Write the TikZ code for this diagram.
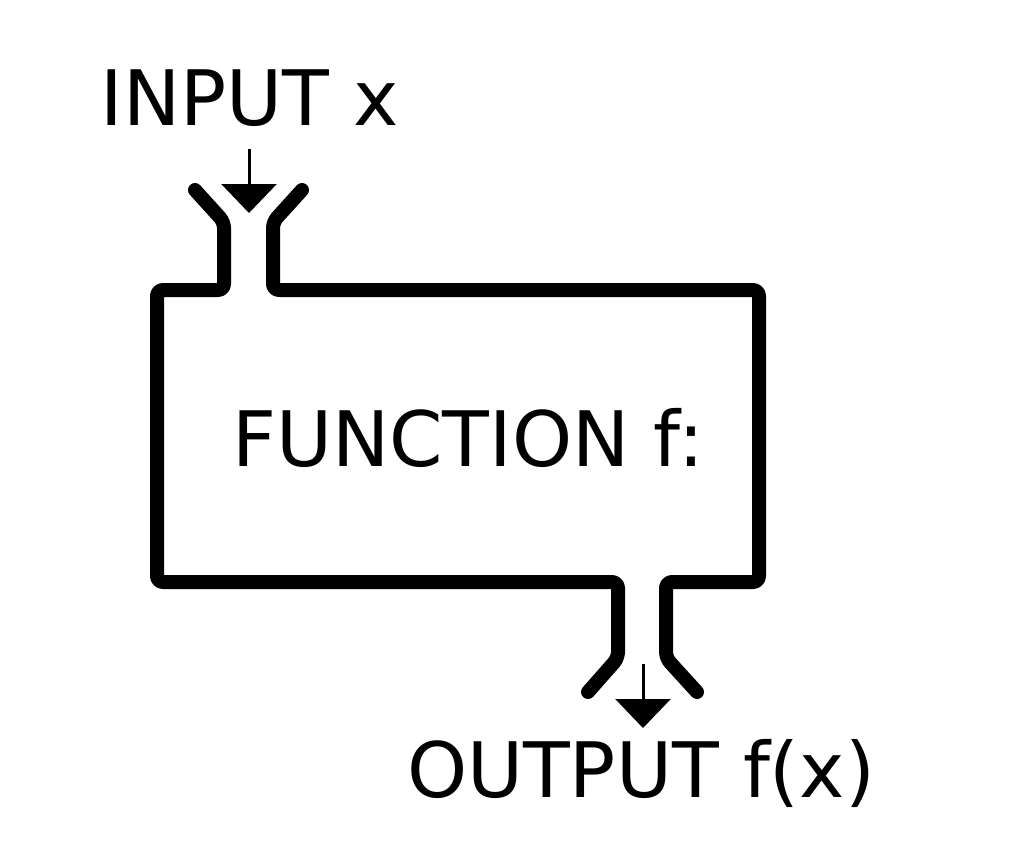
\documentclass[tikz,border=0pt]{standalone}
\usepackage{fontspec}
\setmainfont{DejaVu Sans}
\usetikzlibrary{arrows.meta}
\begin{document}
\begin{tikzpicture}[x=1pt,y=-1pt,
  wall/.style={line width=14pt,line cap=round,line join=round,rounded corners=6pt},
  flow/.style={line width=3pt,-{Triangle[width=55pt,length=29pt]}},
  lbl/.style={inner sep=0pt,anchor=base,font=\fontsize{76.5}{92}\selectfont}]
\useasboundingbox (0,0) rectangle (1010,841);
% texts
\node[lbl] (in) at (250,125) {INPUT x};
\node[lbl] (fn) at (468,466) {FUNCTION f:};
\node[lbl] (out) at (641,797) {OUTPUT f(x)};
% machine walls
\draw[wall] (195,190) -- (224,222) -- (224,290) -- (157,290) -- (157,582)
  -- (618,582) -- (618,658) -- (588,692);
\draw[wall] (302,190) -- (273,222) -- (273,290) -- (759,290) -- (759,582)
  -- (666,582) -- (666,658) -- (697,692);
% flow arrows
\coordinate (a1) at (249,149);
\coordinate (a2) at (249,213);
\coordinate (b1) at (643,664);
\coordinate (b2) at (643,728);
\draw[flow] (a1) -- (a2);
\draw[flow] (b1) -- (b2);
\end{tikzpicture}
\end{document}
